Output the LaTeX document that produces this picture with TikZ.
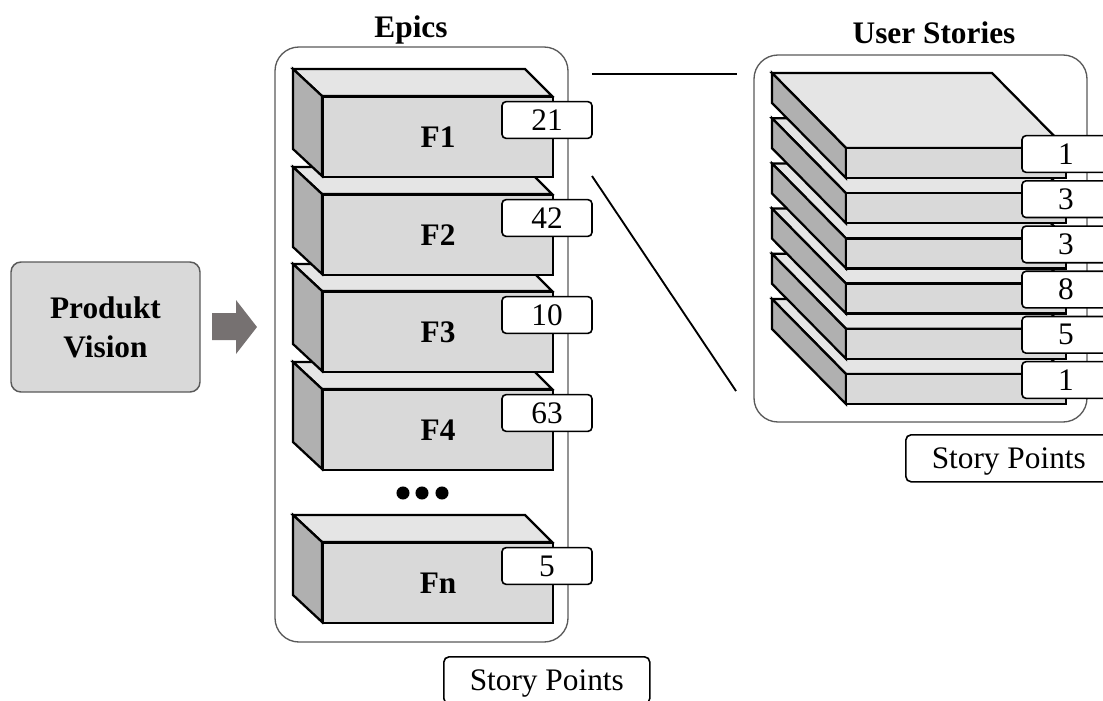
\documentclass[tikz,border=0pt]{standalone}
\usepackage{fontspec}
\setmainfont{Liberation Serif}
\definecolor{facefront}{RGB}{217,217,217}
\definecolor{facetop}{RGB}{229,229,229}
\definecolor{faceside}{RGB}{176,176,176}
\definecolor{framegray}{RGB}{89,89,89}
\definecolor{arrowgray}{RGB}{118,113,113}
\begin{document}
\begin{tikzpicture}[x=0.75pt,y=-0.75pt,
  txt/.style={font=\fontsize{23.5}{28}\selectfont},
  heading/.style={txt,font=\fontsize{23.5}{28}\selectfont\bfseries},
  frame/.style={draw=framegray,line width=1pt,rounded corners=18pt},
  solid3d/.style={draw=black,line width=1.7pt,line join=miter},
  topface/.style={solid3d,fill=facetop},
  sideface/.style={solid3d,fill=faceside},
  frontface/.style={solid3d,fill=facefront,inner sep=0pt,anchor=north west},
  ptlabel/.style={txt,draw=black,fill=white,line width=1.2pt,rounded corners=3pt,
    inner sep=0pt,minimum width=67.5pt,minimum height=27.5pt},
  spbox/.style={txt,draw=black,fill=white,line width=1.2pt,rounded corners=4pt,
    inner sep=0pt,minimum width=154.5pt,minimum height=35.25pt,anchor=north west,
    text height=15.5pt,text depth=0pt},
  linkline/.style={draw=black,line width=1.4pt}
]
\useasboundingbox (0,0) rectangle (1103,700);

% product vision box and block arrow
\node[heading,align=center,draw=framegray,line width=1.1pt,fill=facefront,
  rounded corners=7.5pt,minimum width=141.75pt,minimum height=97.5pt,
  font=\fontsize{23.5}{29.25}\selectfont\bfseries] (vision) at (105.5,327) {Produkt\\Vision};
\fill[arrowgray] (212,313) -- (236,313) -- (236,300) -- (257,327) -- (236,354)
  -- (236,340) -- (212,340) -- cycle;

% epics column
\node[heading,anchor=base] (epicsTitle) at (411,37) {Epics};
\draw[frame] (275,47) rectangle (568,642);

\foreach \name/\T/\pts in {Fn/542/5, F4/389/63, F3/291/10, F2/194/42, F1/96/21}{
  \filldraw[topface] (293,\T-27) -- (525,\T-27) -- (552,\T) -- (322,\T) -- cycle;
  \filldraw[sideface] (293,\T-27) -- (322,\T) -- (322,\T+80) -- (293,\T+53) -- cycle;
  \node[frontface,heading,minimum width=172.5pt,minimum height=60pt] (\name) at (322,\T) {\name};
  \node[ptlabel] (\name pts) at (547,\T+24) {\pts};
}

% ellipsis between F4 and Fn
\foreach \cx [count=\k] in {403,422,442}
  \fill[black] (\cx,493) circle (4.9pt);

\node[spbox] (epicsPoints) at (443,656) {Story Points};

% user stories column
\node[heading,anchor=base] (storiesTitle) at (934,43) {User Stories};
\draw[frame] (754,55) rectangle (1087,422);

\foreach \i in {5,4,3,2,1,0}{
  \pgfmathsetmacro{\T}{148+45.2*\i}
  \filldraw[topface] (772,\T-75) -- (992,\T-75) -- (1066,\T) -- (846,\T) -- cycle;
  \filldraw[sideface] (772,\T-75) -- (846,\T) -- (846,\T+30) -- (772,\T-45) -- cycle;
  \filldraw[solid3d,fill=facefront] (846,\T) rectangle (1066,\T+30);
}
\foreach \i/\pts in {5/1,4/5,3/8,2/3,1/3,0/1}{
  \pgfmathsetmacro{\T}{148+45.2*\i}
  \node[ptlabel,minimum width=66pt] (story\i) at (1066,\T+6) {\pts};
}

\node[spbox] (storiesPoints) at (905,434) {Story Points};

% zoom lines from F1 to its user stories
\coordinate (zoomA) at (592,74);
\coordinate (zoomB) at (737,74);
\coordinate (zoomC) at (592,176);
\coordinate (zoomD) at (736,391);
\draw[linkline] (zoomA) -- (zoomB);
\draw[linkline] (zoomC) -- (zoomD);
\end{tikzpicture}
\end{document}
